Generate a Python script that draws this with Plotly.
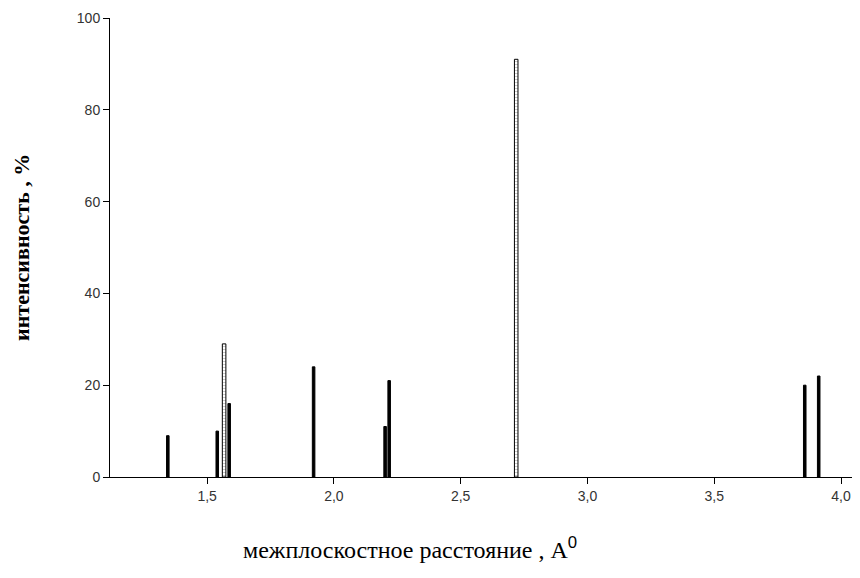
import plotly.graph_objects as go

# d-spacing (Å) and relative intensity (%)
d_solid = [1.345, 1.540, 1.587, 1.920, 2.202, 2.218, 3.857, 3.912]
i_solid = [9, 10, 16, 24, 11, 21, 20, 22]
d_open = [1.567, 2.719]
i_open = [29, 91]

x_ticks = [1.5, 2.0, 2.5, 3.0, 3.5, 4.0]
x_ticktext = ["1,5", "2,0", "2,5", "3,0", "3,5", "4,0"]
y_ticks = [0, 20, 40, 60, 80, 100]

W, H = 852, 562
L, R, T, B = 102, 2, 10, 93

fig = go.Figure()
fig.add_trace(go.Bar(x=d_solid, y=i_solid, width=0.010,
                     marker=dict(color="black", line=dict(color="black", width=1)),
                     showlegend=False))
fig.add_trace(go.Bar(x=d_open, y=i_open, width=0.014,
                     marker=dict(color="white", line=dict(color="black", width=1),
                                 pattern=dict(shape="-", fgcolor="#888", size=3, solidity=0.3)),
                     showlegend=False))

fig.update_layout(
    width=W, height=H,
    margin=dict(l=L, r=R, t=T, b=B),
    plot_bgcolor="white", paper_bgcolor="white",
    barmode="overlay",
    xaxis=dict(range=[1.117, 4.067], tickvals=x_ticks, ticktext=x_ticktext, automargin=False,
               showgrid=False, zeroline=False, showline=True, linecolor="black", linewidth=1,
               ticks="outside", ticklen=6, tickcolor="black",
               tickfont=dict(family="Liberation Sans, Arial", size=14, color="#333")),
    yaxis=dict(range=[0, 100], tickvals=y_ticks, automargin=False,
               showgrid=False, zeroline=False, showline=True, linecolor="black", linewidth=1,
               ticks="outside", ticklen=6, tickcolor="black",
               tickfont=dict(family="Liberation Sans, Arial", size=14, color="#333")),
)

w_plot = W - L - R
h_plot = H - T - B

def px(x, y):
    # figure pixel (from top-left) -> paper coords
    return (x - L) / w_plot, (H - y - B) / h_plot

ax, ay = px(402, 540)
bx, by = px(13, 240)
fig.add_annotation(text="межплоскостное расстояние , A<sup><span style='font-family:Liberation Sans'>0</span></sup>",
                   x=ax, y=ay, xref="paper", yref="paper", showarrow=False,
                   xanchor="center", yanchor="middle",
                   font=dict(family="Liberation Serif, Times New Roman", size=24, color="black"))
fig.add_annotation(text="<b>интенсивность , %</b>",
                   x=bx, y=by, xref="paper", yref="paper", showarrow=False, textangle=-90,
                   xanchor="center", yanchor="middle",
                   font=dict(family="Liberation Serif, Times New Roman", size=22, color="black"))

fig.write_html("out.html")
